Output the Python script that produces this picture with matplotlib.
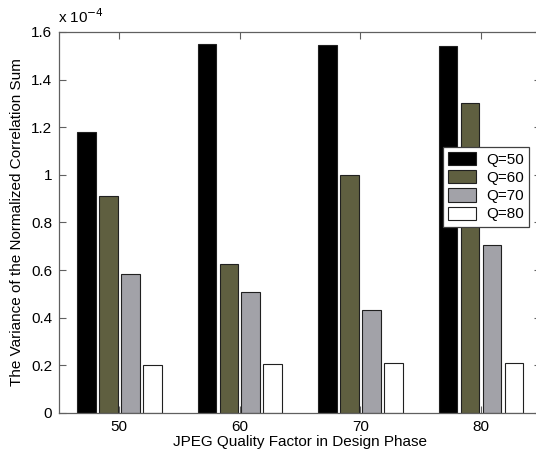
import matplotlib
matplotlib.use("Agg")
import numpy as np
import matplotlib.pyplot as plt

# ==========================================================
# DATA
# ==========================================================

design_quality = ["50", "60", "70", "80"]

series_labels = ["Q=50", "Q=60", "Q=70", "Q=80"]

# variance values, in units of 1e-4
q50 = [1.18, 1.551, 1.546, 1.540]
q60 = [0.911, 0.627, 1.000, 1.300]
q70 = [0.585, 0.507, 0.431, 0.707]
q80 = [0.200, 0.205, 0.211, 0.211]

ytick_values = [0, 0.2, 0.4, 0.6, 0.8, 1.0, 1.2, 1.4, 1.6]
ytick_labels = ["0", "0.2", "0.4", "0.6", "0.8", "1", "1.2", "1.4", "1.6"]

bar_colors = ["#000000", "#5f5f40", "#a2a2a8", "#ffffff"]

# ==========================================================
# FIGURE
# ==========================================================

plt.rcParams["font.family"] = ["Liberation Sans", "DejaVu Sans"]
plt.rcParams["font.size"] = 11

fig = plt.figure(figsize=(5.36, 4.57), dpi=100)

ax = fig.add_axes([0.110, 0.0963, 0.900, 0.8337])

x = np.arange(1, len(design_quality) + 1)

all_series = [q50, q60, q70, q80]

offset_step = 0.182
bar_width = 0.155

for i, values in enumerate(all_series):

    ax.bar(
        x + (i - 1.5) * offset_step,
        values,
        width=bar_width,
        color=bar_colors[i],
        edgecolor="#202020",
        linewidth=0.8,
        label=series_labels[i]
    )

ax.set_xlim(0.5, 4.5)
ax.set_ylim(0, 1.6)

ax.set_xticks(x)
ax.set_xticklabels(design_quality)

ax.set_yticks(ytick_values)
ax.set_yticklabels(ytick_labels)

ax.tick_params(
    direction="in",
    length=5,
    width=0.8,
    color="#606060",
    top=True,
    right=True,
    pad=5
)

for spine in ax.spines.values():
    spine.set_color("#606060")
    spine.set_linewidth(0.9)

ax.set_xlabel("JPEG Quality Factor in Design Phase", labelpad=1)
ax.set_ylabel("The Variance of the Normalized Correlation Sum", labelpad=5)

fig.text(
    58 / 536,
    1 - 23 / 457,
    r"x 10$^{-4}$",
    fontsize=11,
    ha="left",
    va="baseline"
)

legend = ax.legend(
    loc="upper left",
    bbox_to_anchor=(442.7 / 536, 1 - 146.7 / 457),
    bbox_transform=fig.transFigure,
    fancybox=False,
    framealpha=1,
    edgecolor="#404040",
    fontsize=11,
    handlelength=1.8,
    handleheight=0.95,
    handletextpad=0.7,
    labelspacing=0.22,
    borderpad=0.35,
    borderaxespad=0
)

legend.get_frame().set_linewidth(0.9)

fig.savefig("out.png", dpi=100)
